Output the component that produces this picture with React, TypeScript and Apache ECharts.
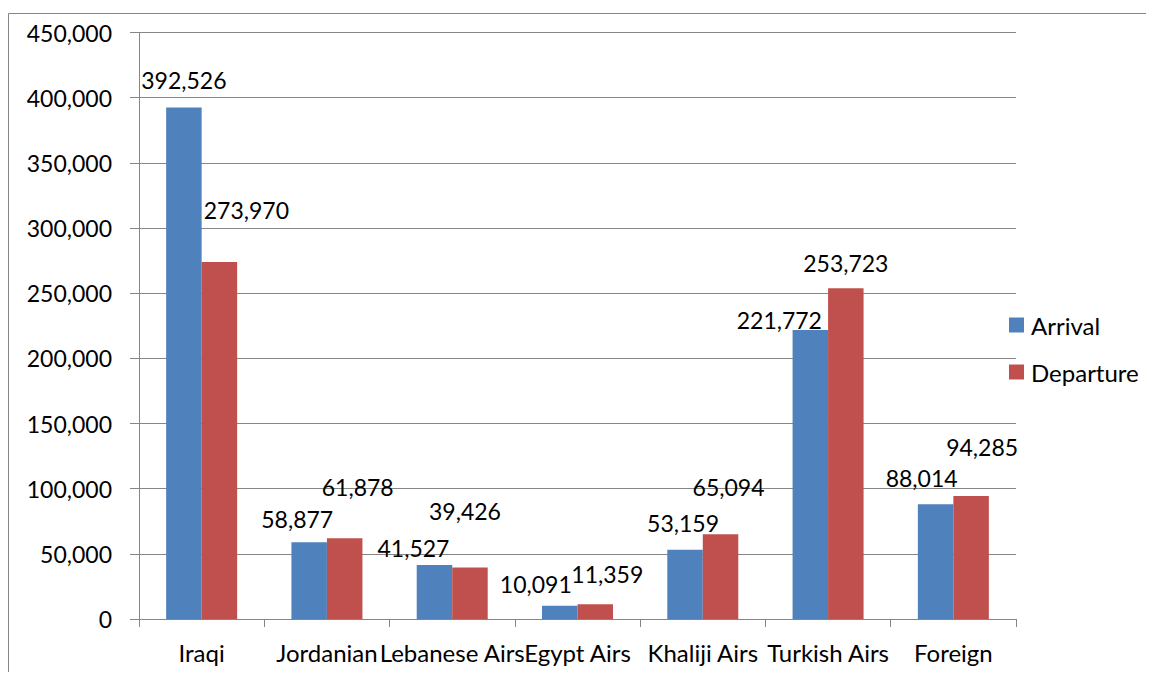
import React, { useEffect, useRef } from "react";
import * as echarts from "echarts";

const categories = ["Iraqi", "Jordanian", "Lebanese Airs", "Egypt Airs", "Khaliji Airs", "Turkish Airs", "Foreign"];
const arrival = [392526, 58877, 41527, 10091, 53159, 221772, 88014];
const departure = [273970, 61878, 39426, 11359, 65094, 253723, 94285];
const yTicks = { min: 0, max: 450000, interval: 50000 };

// label placement offsets (layout only), [dx, dy] per bar
const arrivalLabelOffsets = [[0, -15], [-12, -11], [-21, -5], [-24, -10], [-2, -15], [-31, 2], [-14, -14]];
const departureLabelOffsets = [[27, -40], [13, -39], [-5, -45], [12, -18], [8, -35], [0, -13], [11, -37]];

const FONT = "Lato";
const fmt = (v: number) => v.toLocaleString("en-US");

export default function App() {
  const ref = useRef<HTMLDivElement>(null);
  useEffect(() => {
    if (!ref.current) return;
    const chart = echarts.init(ref.current, undefined, { renderer: "svg" });
    const mk = (vals: number[], offs: number[][]) =>
      vals.map((v, i) => ({
        value: v,
        label: { offset: offs[i] },
      }));
    const labelBase = {
      show: true,
      position: "top",
      distance: 0,
      color: "#000",
      fontFamily: FONT,
      fontSize: 23,
      lineHeight: 24,
      formatter: (p: any) => fmt(p.value),
    };
    const borderStyle = { stroke: "#868686", lineWidth: 1 };
    chart.setOption({
      animation: false,
      textStyle: { fontFamily: FONT },
      graphic: [
        { type: "line", shape: { x1: 0.5, y1: 5.5, x2: 1300, y2: 5.5 }, style: borderStyle, silent: true },
        { type: "line", shape: { x1: 0.5, y1: 5.5, x2: 0.5, y2: 900 }, style: borderStyle, silent: true },
      ],
      grid: { left: 131, right: 138, top: 24.5, bottom: 61, containLabel: false },
      legend: {
        orient: "vertical",
        left: 1001,
        top: 305,
        padding: 0,
        itemWidth: 15,
        itemHeight: 15,
        itemGap: 23,
        icon: "rect",
        textStyle: { fontFamily: FONT, fontSize: 24, lineHeight: 24, color: "#000", padding: [0, 0, 0, 2] },
        data: ["Arrival", "Departure"],
      },
      xAxis: {
        type: "category",
        data: categories,
        axisLine: { lineStyle: { color: "#868686", width: 1 } },
        axisTick: { show: true, length: 8, alignWithLabel: false, lineStyle: { color: "#868686" } },
        axisLabel: { color: "#000", fontFamily: FONT, fontSize: 24, lineHeight: 24, margin: 21, interval: 0 },
      },
      yAxis: {
        type: "value",
        min: yTicks.min,
        max: yTicks.max,
        interval: yTicks.interval,
        axisLine: { show: true, lineStyle: { color: "#868686", width: 1 } },
        axisTick: { show: true, inside: false, length: 9, lineStyle: { color: "#868686" } },
        splitLine: { show: true, lineStyle: { color: "#868686", width: 1 } },
        axisLabel: { color: "#000", fontFamily: FONT, fontSize: 23, margin: 27, formatter: (v: number) => fmt(v) },
      },
      series: [
        {
          name: "Arrival",
          type: "bar",
          data: mk(arrival, arrivalLabelOffsets),
          barWidth: 35.5,
          barGap: "0%",
          itemStyle: { color: "#4F81BD" },
          label: labelBase,
        },
        {
          name: "Departure",
          type: "bar",
          data: mk(departure, departureLabelOffsets),
          barWidth: 35.5,
          barGap: "0%",
          itemStyle: { color: "#C0504D" },
          label: labelBase,
        },
      ],
    });
    return () => chart.dispose();
  }, []);
  return <div ref={ref} style={{ width: 1146, height: 672, marginBottom: -8 }} />;
}
